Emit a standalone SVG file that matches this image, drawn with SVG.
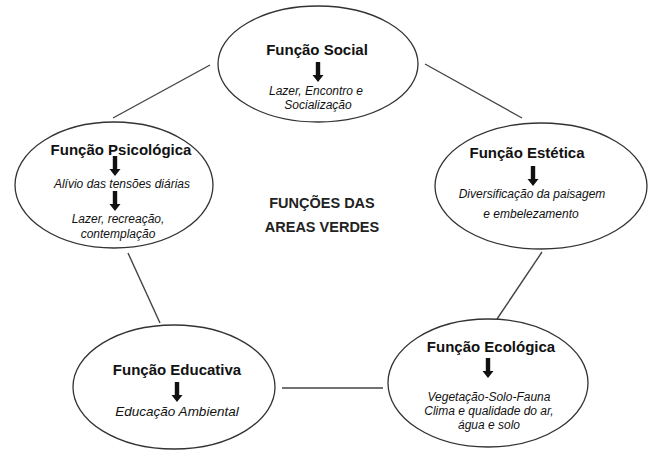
<svg xmlns="http://www.w3.org/2000/svg" width="650" height="465" viewBox="0 0 650 465">
<style>
.el{fill:#fff;stroke:#333;stroke-width:1.3}
.ln{stroke:#444;stroke-width:1.4;fill:none}
.t{font-family:"Liberation Sans",Arial,sans-serif;font-weight:bold;font-size:15px;fill:#111;text-anchor:middle}
.s{font-family:"Liberation Sans",Arial,sans-serif;font-style:italic;font-size:12px;fill:#111;text-anchor:middle}
.c{font-family:"Liberation Sans",Arial,sans-serif;font-weight:bold;font-size:14.5px;fill:#222;text-anchor:middle}
</style>
<defs>
<path id="arr" d="M-2.2,0 H2.2 V13 H5.5 L0,20 L-5.5,13 H-2.2 Z" fill="#111"/>
</defs>
<g id="connectors">
<line class="ln" x1="113" y1="118" x2="210" y2="65"/>
<line class="ln" x1="425" y1="64" x2="522" y2="118"/>
<line class="ln" x1="542" y1="252" x2="497" y2="319"/>
<line class="ln" x1="128" y1="253" x2="160" y2="323"/>
<line class="ln" x1="282" y1="388" x2="383" y2="388"/>
</g>
<g id="social">
<ellipse class="el" cx="318" cy="64" rx="100" ry="58"/>
<text class="t" x="317" y="55">Função Social</text>
<use href="#arr" x="318" y="62"/>
<text class="s" x="316" y="95">Lazer, Encontro e</text>
<text class="s" x="318" y="109">Socialização</text>
</g>
<g id="psicologica">
<ellipse class="el" cx="114" cy="185" rx="99" ry="63"/>
<text class="t" x="121" y="155">Função Psicológica</text>
<use href="#arr" x="115" y="156"/>
<text class="s" x="122" y="188">Alívio das tensões diárias</text>
<use href="#arr" x="115" y="191"/>
<text class="s" x="118" y="223">Lazer, recreação,</text>
<text class="s" x="118" y="238">contemplação</text>
</g>
<g id="estetica">
<ellipse class="el" cx="541" cy="186" rx="106" ry="63"/>
<text class="t" x="527" y="158">Função Estética</text>
<use href="#arr" x="533" y="166"/>
<text class="s" x="532" y="198">Diversificação da paisagem</text>
<text class="s" x="531" y="218">e embelezamento</text>
</g>
<g id="educativa">
<ellipse class="el" cx="174" cy="387" rx="101" ry="62"/>
<text class="t" x="177" y="375">Função Educativa</text>
<use href="#arr" x="177" y="382"/>
<text class="s" x="177" y="416" style="font-size:13.5px">Educação Ambiental</text>
</g>
<g id="ecologica">
<ellipse class="el" cx="488" cy="383" rx="100" ry="64"/>
<text class="t" x="491" y="352">Função Ecológica</text>
<use href="#arr" x="488" y="358"/>
<text class="s" x="489" y="401">Vegetação-Solo-Fauna</text>
<text class="s" x="489" y="415">Clima e qualidade do ar,</text>
<text class="s" x="489" y="429">água e solo</text>
</g>
<g id="centro">
<text class="c" x="322" y="208">FUNÇÕES DAS</text>
<text class="c" x="322" y="232">AREAS VERDES</text>
</g>
</svg>
